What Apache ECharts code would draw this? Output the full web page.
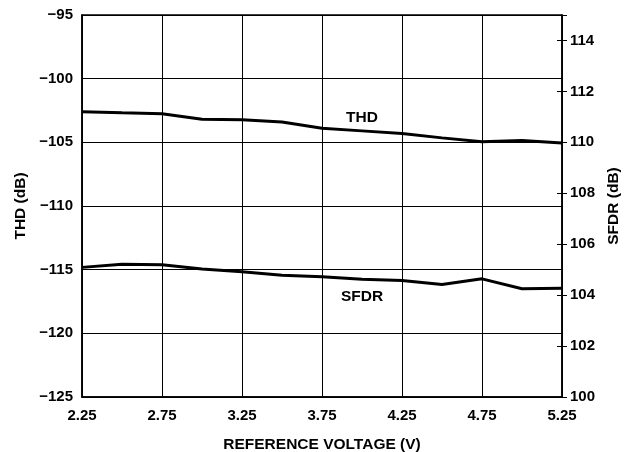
<!DOCTYPE html>
<html>
<head>
<meta charset="utf-8">
<script src="https://cdn.jsdelivr.net/npm/echarts@6/dist/echarts.min.js"></script>
<style>html,body{margin:0;padding:0;background:#fff}#c{width:634px;height:452px}</style>
</head>
<body>
<div id="c"></div>
<script>
var categories = ['2.25','2.50','2.75','3.00','3.25','3.50','3.75','4.00','4.25','4.50','4.75','5.00','5.25'];
var thdValues = [-102.6,-102.68,-102.75,-103.18,-103.23,-103.4,-103.9,-104.1,-104.3,-104.65,-104.95,-104.85,-105.05];
var sfdrValues = [105.09,105.21,105.19,105.03,104.92,104.78,104.72,104.62,104.57,104.42,104.64,104.25,104.27];
var thdLabel = {name:'THD', x:'4.00', y:-103.05};
var sfdrLabel = {name:'SFDR', x:'4.00', y:103.93};

var FONT = '"Liberation Sans", Arial, sans-serif';
function txt(size){ return {color:'#000', fontFamily:FONT, fontWeight:'bold', fontSize:size}; }
function fmtMinus(v){ return String(v).replace('-', '\u2212'); }

var chart = echarts.init(document.getElementById('c'), null, {renderer:'canvas'});
chart.setOption({
  animation:false,
  backgroundColor:'#fff',
  grid:{left:82, right:72, top:15, bottom:55, containLabel:false, outerBoundsMode:'none',
        show:true, borderColor:'#000', borderWidth:1.5, backgroundColor:'transparent'},
  xAxis:{
    type:'category', data:categories, boundaryGap:false,
    name:'REFERENCE VOLTAGE (V)', nameLocation:'middle', nameGap:40,
    nameTextStyle:txt(15.5),
    axisLine:{lineStyle:{color:'#000', width:1.5}},
    axisTick:{show:false},
    axisLabel:Object.assign({interval:1, margin:11}, txt(15)),
    splitLine:{show:true, interval:1, lineStyle:{color:'#000', width:1}}
  },
  yAxis:[
    {type:'value', min:-125, max:-95, interval:5, position:'left',
     name:'THD (dB)', nameLocation:'middle', nameGap:47, nameRotate:90, nameTextStyle:txt(15.5),
     axisLine:{show:true, lineStyle:{color:'#000', width:1.5}},
     axisTick:{show:false},
     axisLabel:Object.assign({margin:9, formatter:fmtMinus}, txt(15)),
     splitLine:{show:true, lineStyle:{color:'#000', width:1}}},
    {type:'value', min:100, max:115, interval:2, position:'right',
     name:'SFDR (dB)', nameLocation:'middle', nameGap:43, nameRotate:90, nameTextStyle:txt(15.5),
     axisLine:{show:true, lineStyle:{color:'#000', width:1.5}},
     axisTick:{show:true, length:5, lineStyle:{color:'#000', width:1}},
     axisLabel:Object.assign({margin:8, formatter:function(v){ return v > 114 ? '' : String(v); }}, txt(15)),
     splitLine:{show:false}},
    {type:'value', min:100, max:115, interval:2, position:'right', offset:0,
     axisLine:{show:false},
     axisTick:{show:true, inside:true, length:5, lineStyle:{color:'#000', width:1}},
     axisLabel:{show:false},
     splitLine:{show:false}}
  ],
  series:[
    {type:'line', name:'THD', data:thdValues, yAxisIndex:0, symbol:'none',
     lineStyle:{color:'#000', width:3}, z:5,
     markPoint:{symbol:'circle', symbolSize:0, silent:true,
       data:[{coord:[thdLabel.x, thdLabel.y], value:thdLabel.name}],
       label:Object.assign({show:true, formatter:thdLabel.name, position:'inside'}, txt(15.5))}},
    {type:'line', name:'SFDR', data:sfdrValues, yAxisIndex:1, symbol:'none',
     lineStyle:{color:'#000', width:3}, z:5,
     markPoint:{symbol:'circle', symbolSize:0, silent:true,
       data:[{coord:[sfdrLabel.x, sfdrLabel.y], value:sfdrLabel.name}],
       label:Object.assign({show:true, formatter:sfdrLabel.name, position:'inside'}, txt(15.5))}}
  ]
});
</script>
</body>
</html>
